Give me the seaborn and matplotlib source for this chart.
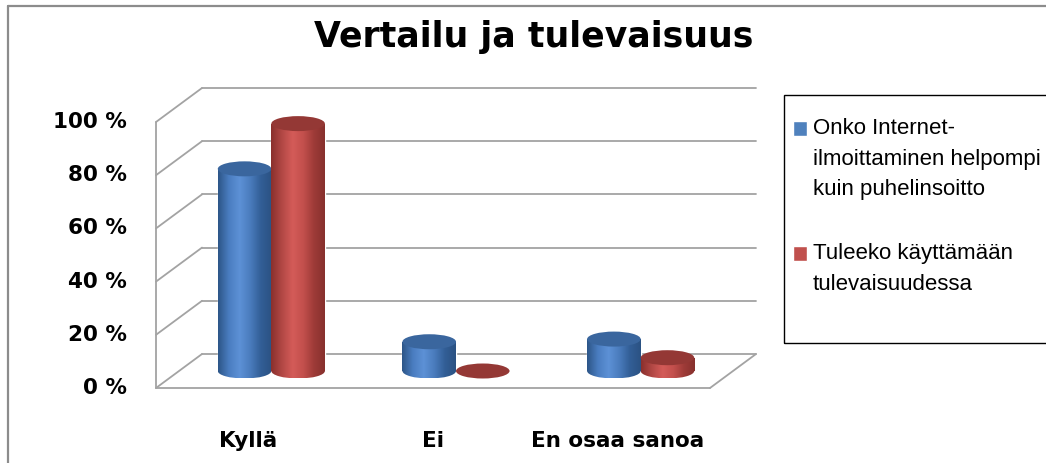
import numpy as np
import pandas as pd
import matplotlib
matplotlib.use("Agg")
import matplotlib.pyplot as plt
import seaborn as sns
from matplotlib.patches import Ellipse, Rectangle
from matplotlib.lines import Line2D
from matplotlib.transforms import ScaledTranslation
from matplotlib.colors import to_rgb

# data (percent)
categories = ["Kyllä", "Ei", "En osaa sanoa"]
series = ["Onko Internet-ilmoittaminen helpompi kuin puhelinsoitto",
          "Tuleeko käyttämään tulevaisuudessa"]
legend_labels = ["Onko Internet-\nilmoittaminen helpompi\nkuin puhelinsoitto",
                 "Tuleeko käyttämään\ntulevaisuudessa"]
easier = [76, 11, 12]
future = [93, 0, 5]
yticks = [0, 20, 40, 60, 80, 100]
ytick_labels = ["0 %", "20 %", "40 %", "60 %", "80 %", "100 %"]
title = "Vertailu ja tulevaisuus"

sns.set_theme(style="white")
plt.rcParams["font.family"] = ["DejaVu Sans"]
plt.rcParams["text.color"] = "black"

W, H = 1046, 463
fig = plt.figure(figsize=(W / 100, H / 100), dpi=100)
fig.patch.set_facecolor("white")
# middle (bar) plane of the fake 3D box; a bit of room below 0 for the cylinder bases
YLO = -8
px_per_pct = 266 / 100
ax = fig.add_axes([179 / W, 1 - (371 - YLO * px_per_pct) / H, 554 / W,
                   (100 - YLO) * px_per_pct / H])

df = pd.DataFrame({
    "vastaus": categories * 2,
    "sarja": [series[0]] * 3 + [series[1]] * 3,
    "osuus": easier + future,
})
blue, red = "#4F81BD", "#C0504D"
sns.barplot(data=df, x="vastaus", y="osuus", hue="sarja", palette=[blue, red],
            width=0.58, saturation=1, ax=ax)

leg = ax.get_legend()
handles = leg.legend_handles
leg.remove()

ax.set_xlim(-0.5, 2.5)
ax.set_ylim(YLO, 100)
ax.set_axis_off()

# depth offsets (inches): back wall up-right, front plane down-left
DX, DY = 0.23, 0.17
back_tr = ax.transData + ScaledTranslation(DX, DY, fig.dpi_scale_trans)
front_tr = ax.transData + ScaledTranslation(-DX, -DY, fig.dpi_scale_trans)
grid_c = "#a3a3a3"


def to_fig(tr, x, y):
    return fig.transFigure.inverted().transform(tr.transform((x, y)))


def fig_line(p, q, **kw):
    fig.add_artist(Line2D([p[0], q[0]], [p[1], q[1]], transform=fig.transFigure, **kw))


# back wall gridlines
for y in yticks:
    ax.plot([-0.5, 2.5], [y, y], transform=back_tr, color=grid_c, lw=1.3,
            zorder=0.5, clip_on=False)
    # left wall diagonals
    fig_line(to_fig(front_tr, -0.5, y), to_fig(back_tr, -0.5, y), color=grid_c, lw=1.3)

# left front edge and floor
fig_line(to_fig(front_tr, -0.5, 0), to_fig(front_tr, -0.5, 100), color=grid_c, lw=1.3)
fig_line(to_fig(front_tr, -0.5, 0), to_fig(front_tr, 2.5, 0), color=grid_c, lw=1.3)
fig_line(to_fig(front_tr, 2.5, 0), to_fig(back_tr, 2.5, 0), color=grid_c, lw=1.3)

# cylinders on top of the seaborn bars
shades = {
    blue: (["#2d5688", "#4a7dc0", "#5d91d6", "#4a7cbd", "#325e96", "#2b5283"], "#3a669e"),
    red: (["#8a302d", "#b24845", "#d45b58", "#c3504d", "#9e3b38", "#87302d"], "#943835"),
}
stops = np.linspace(0, 1, 6)
ey = 15 / px_per_pct
for i, bar in enumerate(ax.patches):
    fc = bar.get_facecolor()[:3]
    key = blue if np.allclose(fc, to_rgb(blue), atol=0.02) else red
    cols, top_c = shades[key]
    rgb = np.array([to_rgb(c) for c in cols])
    t = np.linspace(0, 1, 80)
    grad = np.stack([np.interp(t, stops, rgb[:, k]) for k in range(3)], axis=-1)[None, :, :]
    x0, w, h = bar.get_x(), bar.get_width(), bar.get_height()
    xc = x0 + w / 2
    z = 3 if key == blue else 4
    if h > 0:
        body = Rectangle((x0, 0), w, h, transform=ax.transData)
        base = Ellipse((xc, 0), w, ey, transform=ax.transData)
        for clip in (body, base):
            im = ax.imshow(grad, extent=[x0, x0 + w, -ey / 2, h], aspect="auto",
                           interpolation="bilinear", zorder=z)
            im.set_clip_path(clip)
    ax.add_patch(Ellipse((xc, h), w, ey, facecolor=top_c,
                         edgecolor="none", zorder=z + 0.1, clip_on=False))

ax.set_xlim(-0.5, 2.5)
ax.set_ylim(YLO, 100)

# axis labels on the front plane
for y, lab in zip(yticks, ytick_labels):
    ax.text(-0.5, y, lab, transform=front_tr + ScaledTranslation(-0.29, 0, fig.dpi_scale_trans),
            ha="right", va="center", fontsize=15.5, fontweight="bold", clip_on=False)
for i, cat in enumerate(categories):
    ax.text(i, 0, cat, transform=front_tr + ScaledTranslation(0, -0.59, fig.dpi_scale_trans),
            ha="center", va="baseline", fontsize=15.5, fontweight="bold", clip_on=False)

fig.text(534 / W, 1 - 47 / H, title, ha="center", va="baseline",
         fontsize=25, fontweight="bold")

# legend with a separate box like the original
fig.add_artist(Rectangle((784 / W, 1 - 343 / H), (W - 784 + 10) / W, (343 - 95) / H,
                         transform=fig.transFigure, fill=False, edgecolor="black", lw=1.0))
lg = fig.legend(handles, legend_labels, loc="upper left", bbox_to_anchor=(793 / W, 1 - 118 / H),
                frameon=False, borderpad=0, borderaxespad=0, handlelength=0.63,
                handleheight=0.63, handletextpad=0.27, labelspacing=1.94,
                prop={"family": ["Liberation Sans", "DejaVu Sans"], "size": 16})
for txt in lg.get_texts():
    txt.set_linespacing(1.6)

# move legend squares up to the first line of each label
fig.canvas.draw()
for hnd, txt in zip(lg.legend_handles, lg.get_texts()):
    tb = txt.get_window_extent()
    hb = hnd.get_window_extent()
    shift = (tb.y1 - 3) - hb.y1
    hnd.set_y(hnd.get_y() + shift * 72 / fig.dpi)

# outer chart frame
fig_line((8 / W, 0), (8 / W, 1 - 6 / H), color="#8c8c8c", lw=1.6)
fig_line((8 / W, 1 - 6 / H), (1, 1 - 6 / H), color="#8c8c8c", lw=1.6)

fig.savefig("out.png", dpi=100)
